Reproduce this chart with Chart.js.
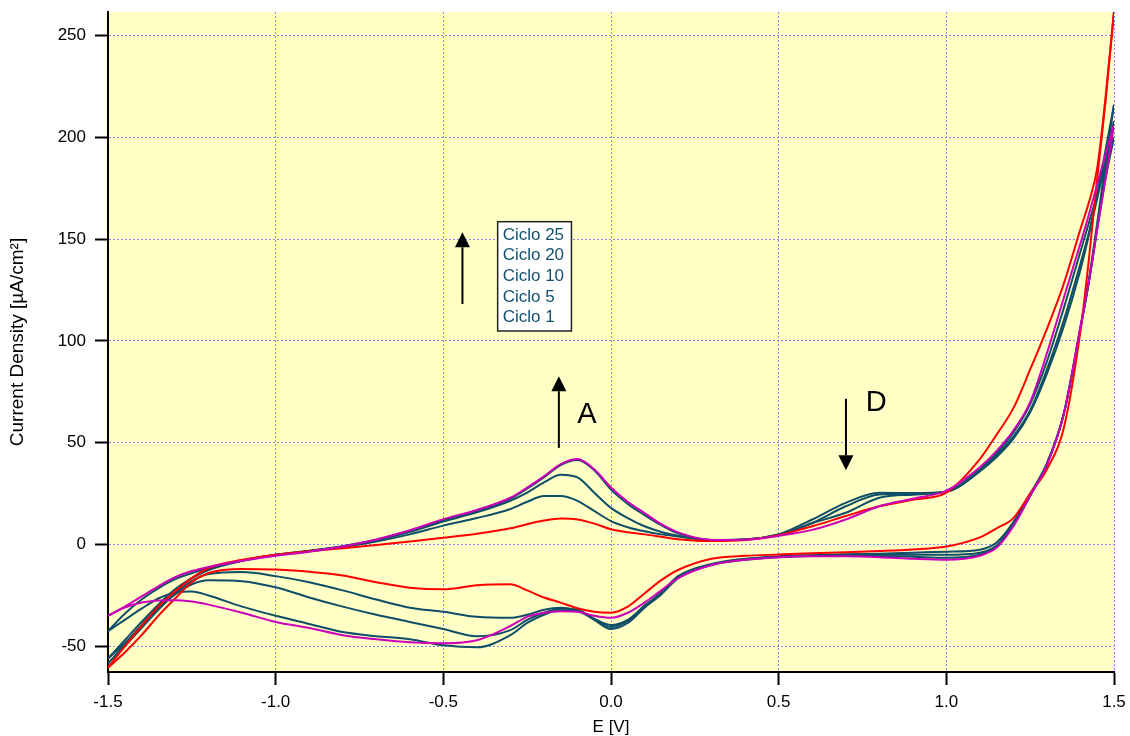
<!DOCTYPE html>
<html><head><meta charset="utf-8">
<script src="https://cdn.jsdelivr.net/npm/chart.js@4.4.1/dist/chart.umd.min.js"></script>
<style>html,body{margin:0;padding:0;background:#fff;}#wrap{width:1130px;height:736px;position:relative;}</style>
</head><body><div id="wrap"><canvas id="c" width="1130" height="736"></canvas></div>
<script>
// Potential grid (V), shared by all branches
const E_GRID = [-1.5,-1.45,-1.4,-1.35,-1.3,-1.25,-1.2,-1.1,-1.0,-0.9,
 -0.8,-0.7,-0.6,-0.5,-0.4,-0.3,-0.25,-0.2,-0.15,-0.1,
 -0.05,0,0.05,0.1,0.15,0.2,0.3,0.4,0.5,0.6,
 0.7,0.8,0.9,1.0,1.1,1.15,1.2,1.25,1.3,1.35,
 1.4,1.425,1.45,1.475,1.5];

// Current density (µA/cm²): anodic (upper) and cathodic (lower) branches
const C1_FWD = [-60.5,-50,-40,-30.5,-23,-16.5,-11.5,-7.5,-5,-3.3,
 -1.8,-0.2,1.5,3.3,5.3,8,10,11.8,12.8,12.3,
 10.3,7.5,6,5,3.8,2.6,1.7,2.2,4.6,9,
 14,18.8,22,25.5,42,54,67,86,106,128,
 155,168,185,220,262];
const C1_REV = [-60.5,-53,-44.5,-35,-26.5,-18.5,-14,-12,-12.3,-13.3,
 -15.2,-18.5,-21.2,-22,-20,-19.5,-22.5,-26,-28.5,-31.3,
 -33,-33.5,-30.5,-24,-17.5,-12.5,-7,-5.5,-4.9,-4.3,
 -3.8,-3.2,-2.4,-1,3.5,8,13,25,37,57,
 105,140,180,218,262];
const C5_FWD = [-58.5,-49,-39.5,-30.5,-22.5,-16.5,-12,-7.8,-5,-3.2,
 -1.2,1.5,5,9.3,13,17.5,21,23.8,23.8,21.5,
 16.5,11.5,8.5,6.5,5,4,2.2,2.5,5,12.3,
 20.5,25.4,25.3,26,36,43,52,65,84,107,
 135,152,172,194,216];
const C5_REV = [-58.5,-50,-41,-32,-24,-18,-14.5,-13.5,-15.5,-18.5,
 -22.5,-27,-31,-33,-35.5,-36,-34.5,-32,-31,-32.5,
 -36.5,-39.5,-37,-30,-23.5,-15.5,-9.5,-7,-5.8,-5.2,
 -4.8,-4.5,-4,-3.5,-2.5,1,11,25,40,64,
 106,130,158,188,216];
const C10_FWD = [-56,-47,-38,-29.5,-22,-16.5,-12.5,-8,-5,-3,
 -0.8,2.2,6.2,11.3,15.8,21.5,25.5,30.5,34.3,33,
 25.5,18,13,9,6.2,4.3,2.2,2.5,5,10.6,
 18.8,24.6,25,26,36,44,53,66,86,110,
 138,153,170,189,208];
const C10_REV = [-56,-48.5,-40,-31.5,-24.5,-19.5,-17.5,-18,-21,-26,
 -30.5,-34.5,-38,-41.5,-45,-42,-37,-33.5,-31.5,-32,
 -36.5,-40.5,-37.5,-30.5,-24,-16,-9.8,-7.2,-6,-5.4,
 -5,-5,-5,-5,-4,-0.5,10,24,39.5,64,
 106,129,156,183,208];
const C20_FWD = [-42.5,-34,-27,-21.5,-17,-14,-11.5,-8,-5.3,-3.3,
 -1,2.3,6.5,12,16.5,22.5,27.5,33,39,41.5,
 36.5,27,20,14.5,9.5,5.5,2.3,2.5,4.8,10.5,
 15.6,23,24.5,26,37,45,55,69,90,116,
 144,158,172,188,200];
const C20_REV = [-42.5,-37,-31.5,-26.5,-23.5,-23,-25,-30.5,-35,-39,
 -43,-45,-46.5,-49.5,-50.5,-44.5,-38.5,-34.5,-32.3,-32.5,
 -37,-41.5,-38.5,-31,-24.5,-16.5,-10,-7.5,-6.2,-5.6,
 -5.4,-5.6,-6,-6.5,-5,-1,9.5,24,39.5,64,
 107,129,155,180,200];
const C25_FWD = [-35,-30.5,-25.5,-20.5,-16,-13,-11,-8,-5.5,-3.5,
 -1,2.5,7,12.5,17,23,28,33.5,39.5,42,
 37,28,21,15.5,10,6,2.3,2.4,4.3,7.2,
 12.3,18.8,22.5,26.5,38,46,56,70,94,121,
 148,162,177,192,206];
const C25_REV = [-35,-31,-28.5,-27.5,-27.3,-28,-29.5,-33.5,-38,-41,
 -44.5,-46.5,-48,-48.5,-47,-40,-35.5,-33.5,-32.7,-33,
 -35,-36,-33.5,-28.5,-22.5,-16.5,-10,-7.5,-6.2,-5.8,
 -5.8,-6.2,-7,-7.5,-5.5,-1.5,9,24,39,64,
 107,129,155,180,206];

const LEGEND_LABELS = ['Ciclo 25','Ciclo 20','Ciclo 10','Ciclo 5','Ciclo 1'];
const X_TICKS = [-1.5,-1.0,-0.5,0.0,0.5,1.0,1.5];
const Y_TICKS = [-50,0,50,100,150,200,250];

const TEAL = '#0f4e68', RED = '#ff0000', MAG = '#cc00b8';
const SERIES = [
  {fwd:C25_FWD, rev:C25_REV, color:MAG},
  {fwd:C1_FWD, rev:C1_REV, color:RED},
  {fwd:C20_FWD, rev:C20_REV, color:TEAL},
  {fwd:C10_FWD, rev:C10_REV, color:TEAL},
  {fwd:C5_FWD, rev:C5_REV, color:TEAL}
];

const datasets = [];
SERIES.forEach(s => {
  [s.fwd, s.rev].forEach(arr => {
    datasets.push({
      data: E_GRID.map((x,i)=>({x:x, y:arr[i]})),
      borderColor: s.color, borderWidth: 2, pointRadius: 0,
      fill: false, cubicInterpolationMode: 'monotone'
    });
  });
});

// annotation placement (data units)
const ANNOT = {
  arrows: [{x:-0.443, from:118.2, to:153.4},{x:-0.1555, from:47.5, to:82.7},{x:0.7007, from:71.6, to:36.5}],
  letters: [{text:'A', x:-0.0715, y:63.6},{text:'D', x:0.791, y:69.7}],
  legendBox: {x0:-0.338, x1:-0.118, y0:158.6, y1:104.9}
};

const FONT = "'Liberation Sans', Arial, sans-serif";

const overlay = {
  id:'overlay',
  beforeDraw(chart){
    const {ctx, chartArea:a} = chart;
    ctx.save();
    ctx.fillStyle = '#ffffc6';
    ctx.fillRect(a.left-2, a.top, a.right-a.left+4, a.bottom-a.top);
    ctx.restore();
  },
  afterDatasetsDraw(chart){
    const {ctx} = chart;
    const xs = chart.scales.x, ys = chart.scales.y;
    ctx.save();
    ctx.fillStyle = '#000'; ctx.strokeStyle = '#000';
    ANNOT.arrows.forEach(ar => {
      const px = xs.getPixelForValue(ar.x);
      const p0 = ys.getPixelForValue(ar.from), p1 = ys.getPixelForValue(ar.to);
      const dir = p1 < p0 ? -1 : 1;
      const head = 15, hw = 7.5;
      ctx.lineWidth = 2;
      ctx.beginPath(); ctx.moveTo(px, p0); ctx.lineTo(px, p1 - dir*head); ctx.stroke();
      ctx.beginPath(); ctx.moveTo(px, p1); ctx.lineTo(px-hw, p1-dir*head); ctx.lineTo(px+hw, p1-dir*head); ctx.closePath(); ctx.fill();
    });
    ctx.font = '29px ' + FONT; ctx.textAlign='center'; ctx.textBaseline='middle';
    ANNOT.letters.forEach(l => ctx.fillText(l.text, xs.getPixelForValue(l.x), ys.getPixelForValue(l.y)));
    const b = ANNOT.legendBox;
    const bx0 = xs.getPixelForValue(b.x0), bx1 = xs.getPixelForValue(b.x1);
    const by0 = ys.getPixelForValue(b.y0), by1 = ys.getPixelForValue(b.y1);
    ctx.fillStyle = '#fff'; ctx.fillRect(bx0, by0, bx1-bx0, by1-by0);
    ctx.lineWidth = 1.5; ctx.strokeStyle = '#222'; ctx.strokeRect(bx0, by0, bx1-bx0, by1-by0);
    ctx.fillStyle = '#14506e'; ctx.font = '17px ' + FONT; ctx.textAlign='left'; ctx.textBaseline='middle';
    const lh = (by1-by0-6)/LEGEND_LABELS.length;
    LEGEND_LABELS.forEach((t,i)=> ctx.fillText(t, bx0+5, by0+3+lh*(i+0.5)));
    ctx.restore();
  }
};

new Chart(document.getElementById('c'), {
  type:'line',
  data:{datasets},
  plugins:[overlay],
  options:{
    responsive:false, animation:false, devicePixelRatio:1,
    layout:{padding:{top:12, right:16, left:0, bottom:0}},
    plugins:{legend:{display:false}, tooltip:{enabled:false}},
    scales:{
      x:{type:'linear', min:-1.5, max:1.5,
        afterBuildTicks: s => { s.ticks = X_TICKS.map(v=>({value:v})); },
        afterFit: s => { s.height = 64; s.paddingLeft = 0; s.paddingRight = 0; },
        ticks:{color:'#000', font:{family:FONT, size:17}, padding:7, maxRotation:0,
          callback: v => Number(v).toFixed(1)},
        grid:{color:'rgba(110,110,255,0.85)', lineWidth:1, drawTicks:true, tickLength:13, tickColor:'#000', tickWidth:2, tickBorderDash:[]},
        border:{display:true, color:'#000', width:2, dash:[2,2]},
        title:{display:true, text:'E [V]', color:'#000', font:{family:FONT, size:17, lineHeight:1}, padding:{top:0, bottom:0}}
      },
      y:{type:'linear', min:-62.6, max:261.6,
        afterBuildTicks: s => { s.ticks = Y_TICKS.map(v=>({value:v})); },
        afterFit: s => { s.width = 108; s.paddingTop = 0; s.paddingBottom = 0; },
        ticks:{color:'#000', font:{family:FONT, size:17}, padding:9},
        grid:{color:'rgba(110,110,255,0.85)', lineWidth:1, drawTicks:true, tickLength:13, tickColor:'#000', tickWidth:2, tickBorderDash:[]},
        border:{display:true, color:'#000', width:2, dash:[2,2]},
        title:{display:true, text:'Current Density [µA/cm²]', color:'#000', font:{family:FONT, size:19, lineHeight:1.2}, padding:{top:6, bottom:0}}
      }
    }
  }
});
</script></body></html>
